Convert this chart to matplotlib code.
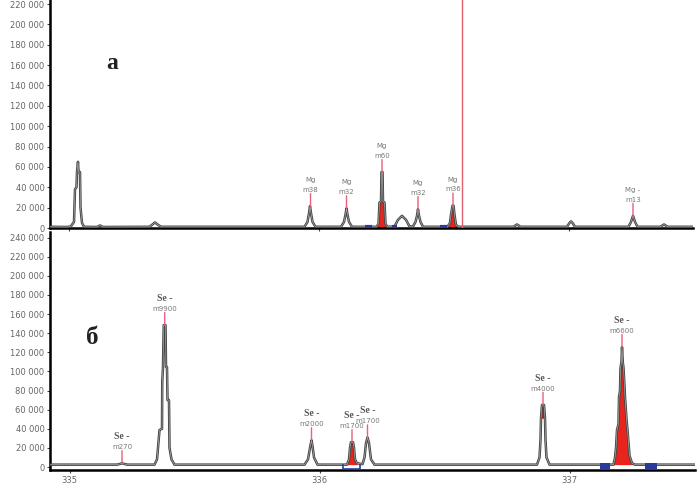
import numpy as np
import matplotlib.pyplot as plt

# top trace (a), wavelength nm vs counts
top_x = [334.925, 334.990, 335.005, 335.018, 335.022, 335.028, 335.030, 335.034, 335.036, 335.042,
         335.044, 335.050, 335.058, 335.110, 335.122, 335.134, 335.320, 335.332, 335.342, 335.352,
         335.366, 335.940, 335.952, 335.958, 335.962, 335.966, 335.972, 335.984, 336.086, 336.098,
         336.104, 336.108, 336.112, 336.118, 336.130, 336.228, 336.236, 336.240, 336.246, 336.248,
         336.252, 336.254, 336.260, 336.264, 336.272, 336.300, 336.314, 336.330, 336.346, 336.360,
         336.374, 336.384, 336.390, 336.394, 336.398, 336.404, 336.414, 336.512, 336.522, 336.526,
         336.532, 336.536, 336.540, 336.546, 336.556, 336.776, 336.790, 336.804, 336.990, 337.000,
         337.006, 337.012, 337.022, 337.236, 337.246, 337.254, 337.262, 337.272, 337.364, 337.378,
         337.392, 337.500]
top_y = [1200, 1000, 1500, 6000, 38000, 40000, 55000, 65000, 55000, 55000,
         20000, 5000, 1200, 1000, 2500, 1000, 1200, 3500, 5500, 3500,
         1200, 1200, 6000, 14500, 21500, 14500, 6000, 1200, 1200, 6000,
         13000, 19300, 13000, 6000, 1200, 1200, 4000, 25000, 26000, 55000,
         55000, 26000, 25000, 4000, 1200, 1500, 8000, 12000, 8000, 1500,
         1500, 6000, 12000, 18600, 12000, 6000, 1200, 1200, 5000, 13000,
         22000, 22000, 13000, 3000, 1200, 1200, 3500, 1200, 1200, 5000,
         6500, 5000, 1200, 1200, 6000, 12000, 6000, 1200, 1200, 3500,
         1200, 1200]

# bottom trace (б)
bot_x = [334.925, 335.190, 335.205, 335.210, 335.216, 335.230, 335.340, 335.350, 335.354, 335.360,
         335.370, 335.371, 335.374, 335.377, 335.384, 335.386, 335.390, 335.392, 335.398, 335.400,
         335.408, 335.420, 335.940, 335.954, 335.962, 335.968, 335.972, 335.978, 335.992, 336.110,
         336.118, 336.122, 336.126, 336.134, 336.138, 336.142, 336.150, 336.172, 336.180, 336.186,
         336.192, 336.198, 336.206, 336.220, 336.870, 336.880, 336.884, 336.886, 336.890, 336.898,
         336.902, 336.904, 336.908, 336.920, 337.176, 337.182, 337.186, 337.190, 337.196, 337.198,
         337.202, 337.204, 337.208, 337.210, 337.213, 337.216, 337.220, 337.222, 337.228, 337.232,
         337.240, 337.250, 337.262, 337.502]
bot_y = [2500, 2500, 3500, 4000, 3500, 2500, 2500, 8000, 20000, 38700,
         40000, 89000, 104600, 148500, 148500, 104600, 104600, 70000, 70000, 20000,
         8000, 2500, 2500, 8000, 20000, 28000, 22000, 10000, 2500, 2500,
         8000, 20000, 26000, 26000, 20000, 8000, 4000, 3000, 10000, 25000,
         31000, 25000, 8000, 2500, 2500, 10000, 28000, 51000, 65000, 65000,
         51000, 28000, 10000, 2500, 2500, 10000, 20000, 38700, 45000, 73000,
         80000, 103500, 110000, 125500, 110000, 103500, 85000, 73000, 50000, 38700,
         12000, 4000, 2500, 2500]

# peak labels: x, tip height, first line, second line
mg_x = [335.964, 336.108, 336.250, 336.394, 336.534, 337.254]
mg_tip = [21500, 19300, 55000, 18600, 22000, 12000]
mg_l1 = ["Mg", "Mg", "Mg", "Mg", "Mg", "Mg -"]
mg_l2 = ["m38", "m32", "m60", "m32", "m36", "m13"]

se_x = [335.210, 335.381, 335.968, 336.130, 336.192, 336.894, 337.210]
se_tip = [4000, 148500, 28000, 26000, 31000, 65000, 125500]
se_l1 = ["Se -"] * 7
se_l2 = ["m270", "m9900", "m2000", "m1700", "m1700", "m4000", "m6600"]

red_top = [(336.228, 336.272), (336.512, 336.556)]
red_bot = [(336.110, 336.150), (337.176, 337.262)]
blue_top = [(336.182, 336.210), (336.290, 336.310), (336.482, 336.510)]
blue_bot = [(337.122, 337.162), (337.302, 337.350)]

marker_line = 336.570
yt_top = np.arange(0, 220001, 20000)
yt_bot = np.arange(0, 240001, 20000)
xt = [335, 336, 337]

fig = plt.figure(figsize=(7, 4.86), dpi=100)
ax1 = fig.add_axes([50 / 700, 258 / 486, 643 / 700, 228 / 486])
ax2 = fig.add_axes([50 / 700, 16 / 486, 645 / 700, 238 / 486])

def fmt(v):
    return "{:,}".format(int(v)).replace(",", " ")

def style(ax):
    for s in ["top", "right"]:
        ax.spines[s].set_visible(False)
    ax.spines["left"].set_linewidth(1.8)
    ax.spines["bottom"].set_linewidth(1.8)
    ax.tick_params(axis="both", labelsize=6, labelcolor="#666", length=2.5, width=0.8,
                   color="#444", pad=1.5)

def add_label(ax, x, tip, l1, l2, bold):
    ax.annotate("", xy=(x, tip), xytext=(0, 9), textcoords="offset points",
                arrowprops=dict(arrowstyle="-", color="#e8607a", lw=1, shrinkA=0, shrinkB=0))
    ax.annotate(l2, xy=(x, tip), xytext=(0, 9.5), textcoords="offset points",
                ha="center", va="bottom", fontsize=5, color="#777")
    if bold:
        ax.annotate(l1, xy=(x, tip), xytext=(0, 16), textcoords="offset points",
                    ha="center", va="bottom", fontsize=7, color="#555",
                    family="Liberation Serif", weight="bold")
    else:
        ax.annotate(l1, xy=(x, tip), xytext=(0, 16.5), textcoords="offset points",
                    ha="center", va="bottom", fontsize=5, color="#777")

tx = np.array(top_x)
ty = np.array(top_y)
bx = np.array(bot_x)
by = np.array(bot_y)

# panel a
for a, b in red_top:
    m = (tx >= a) & (tx <= b)
    ax1.fill_between(tx[m], 0, ty[m], color="#e8241c", lw=0, zorder=2)
ax1.plot(tx, ty, color="#444", lw=1.8, zorder=3)
ax1.plot(tx, ty, color="#aaa", lw=0.5, zorder=3)
for a, b in blue_top:
    ax1.plot([a, b], [800, 800], color="#2a3a9a", lw=3, solid_capstyle="butt", zorder=4)
ax1.axvline(marker_line, color="#e06070", lw=1, zorder=4)
for i in range(len(mg_x)):
    add_label(ax1, mg_x[i], mg_tip[i], mg_l1[i], mg_l2[i], False)
ax1.text(335.170, 162000, "a", fontsize=17, family="Liberation Serif", weight="bold",
         ha="center", va="center", color="#222")
ax1.set_yticks(yt_top)
ax1.set_yticklabels([fmt(v) for v in yt_top])
ax1.set_xticks(xt)
ax1.set_xticklabels([])
ax1.set_xlim(334.922, 337.494)
ax1.set_ylim(0, 224000)
style(ax1)

# panel b
for a, b in red_bot:
    m = (bx >= a) & (bx <= b)
    ax2.fill_between(bx[m], 2500, by[m], color="#e8241c", lw=0, zorder=2)
m = (bx >= 336.884) & (bx <= 336.904)
ax2.fill_between(bx[m], 51000, np.maximum(by[m], 51000), color="#c81e18", lw=0, zorder=2)
ax2.plot(bx, by, color="#444", lw=1.8, zorder=3)
ax2.plot(bx, by, color="#aaa", lw=0.5, zorder=3)
ax2.plot([336.094, 336.094, 336.162, 336.162], [2500, -2500, -2500, 2500], color="#2a3a9a", lw=1.2, zorder=4)
for a, b in blue_bot:
    ax2.fill_between([a, b], -3000, 4500, color="#2a3a9a", lw=0, zorder=4)
for i in range(len(se_x)):
    add_label(ax2, se_x[i], se_tip[i], se_l1[i], se_l2[i], True)
ax2.text(335.090, 135000, "б", fontsize=18, family="Liberation Serif", weight="bold",
         ha="center", va="center", color="#222")
ax2.set_yticks(yt_bot)
ax2.set_yticklabels([fmt(v) for v in yt_bot])
ax2.set_xticks(xt)
ax2.set_xticklabels([str(v) for v in xt])
ax2.set_xlim(334.922, 337.502)
ax2.set_ylim(-3100, 245800)
style(ax2)

fig.savefig("out.png", dpi=100)
